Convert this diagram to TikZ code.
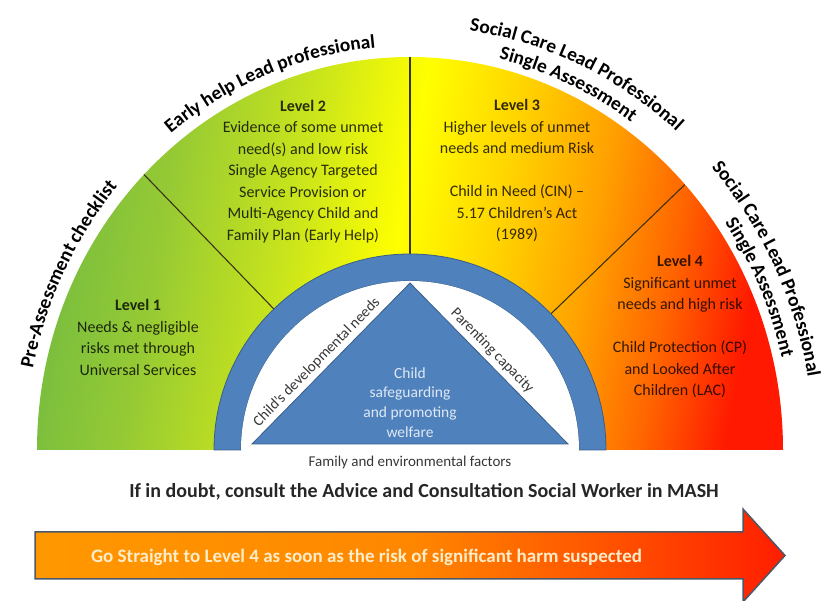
\documentclass[tikz,border=0pt]{standalone}
\usepackage{fontspec}
\setmainfont{Carlito}
\usetikzlibrary{decorations.text,calc}
\definecolor{gA}{RGB}{122,190,62}
\definecolor{gB}{RGB}{150,202,52}
\definecolor{gC}{RGB}{200,228,28}
\definecolor{yA}{RGB}{255,255,0}
\definecolor{oA}{RGB}{255,212,0}
\definecolor{oB}{RGB}{255,160,0}
\definecolor{oC}{RGB}{255,100,0}
\definecolor{rA}{RGB}{255,25,0}
\pgfdeclarehorizontalshading{levelgrad}{100bp}{color(0bp)=(gA); color(25bp)=(gA); color(32bp)=(gB); color(41bp)=(gC); color(49bp)=(yA); color(56bp)=(oA); color(63bp)=(oB); color(69bp)=(oC); color(75bp)=(rA); color(100bp)=(rA)}
\definecolor{arrA}{RGB}{255,152,0}
\definecolor{arrB}{RGB}{255,135,0}
\definecolor{arrC}{RGB}{255,75,0}
\definecolor{arrD}{RGB}{255,30,0}
\pgfdeclarehorizontalshading{arrowgrad}{100bp}{color(0bp)=(arrA); color(25bp)=(arrA); color(50bp)=(arrB); color(65bp)=(arrC); color(75bp)=(arrD); color(100bp)=(arrD)}
\definecolor{ringblue}{RGB}{79,129,189}
\definecolor{ringedge}{RGB}{56,93,138}
\definecolor{lightTxt}{RGB}{222,232,244}
\definecolor{txtgray}{RGB}{55,55,55}
\definecolor{divcol}{RGB}{60,50,20}
\definecolor{arrEdge}{RGB}{75,88,105}
\definecolor{arrTxt}{RGB}{255,236,200}
\newcommand\arclblfont{\bfseries\fontsize{19.4}{22}\selectfont}
\begin{document}
\begin{tikzpicture}[x=1pt,y=1pt,
  lvl/.style={align=center, font=\fontsize{16}{21.5}\selectfont, text=black, text opacity=0.8},
  divline/.style={draw=divcol, line width=1.1pt},
  arclbl/.style={decorate, decoration={text along path, text align=center, text={|\arclblfont|#1}}},
  sidetxt/.style={font=\fontsize{15}{17}\selectfont, text=txtgray}]
\useasboundingbox (0,0) rectangle (831,601);
\coordinate (C) at (410,151);
% graded semicircle
\shade[shading=levelgrad, shading angle=-10] ($(C)+(-373,0)$) arc[start angle=180,end angle=0,x radius=373,y radius=393] -- cycle;
% dividers
\draw[divline] ($(C)+(134:196)$) -- ($(C)+(134:383)$);
\draw[divline] ($(C)+(0,196)$) -- ($(C)+(0,393)$);
\draw[divline] ($(C)+(44:196)$) -- ($(C)+(44:382)$);
% ring
\fill[ringblue, draw=ringedge, line width=0.8pt] ($(C)+(-196,0)$) arc[start angle=180,end angle=0,radius=196] -- ++(-27,0) arc[start angle=0,end angle=180,radius=169] -- cycle;
\fill[white] ($(C)+(-169,0)$) arc[start angle=180,end angle=0,radius=169] -- cycle;
% triangle
\coordinate (tl) at (252,157);
\coordinate (tr) at (568,157);
\coordinate (ta) at (410,318);
\fill[ringblue, draw=ringedge, line width=0.8pt] (tl) -- (ta) -- (tr) -- cycle;
\path (tl) -- (ta) node[pos=0.46, sloped, above=1pt, sidetxt] (devneeds) {Child’s developmental needs};
\path (ta) -- (tr) node[pos=0.47, sloped, above=1pt, sidetxt] (parcap) {Parenting capacity};
\node[align=center, font=\fontsize{15.5}{19.7}\selectfont, text=lightTxt] (welfare) at (410,198.5) {Child\\safeguarding\\and promoting\\welfare};
\node[sidetxt] (family) at (410,138) {Family and environmental factors};
% level texts
\node[lvl] (lev1) at (138,263.5) {\textbf{Level 1}\\Needs \& negligible\\risks met through\\Universal Services};
\node[lvl] (lev2) at (303,429.5) {\textbf{Level 2}\\Evidence of some unmet\\need(s) and low risk\\Single Agency Targeted\\Service Provision or\\Multi-Agency Child and\\Family Plan (Early Help)};
\node[lvl] (lev3) at (517,430) {\textbf{Level 3}\\Higher levels of unmet\\needs and medium Risk\\[21.5pt]Child in Need (CIN) –\\5.17 Children’s Act\\(1989)};
\node[lvl] (lev4) at (680,274) {\textbf{Level 4}\\Significant unmet\\needs and high risk\\[21.5pt]Child Protection (CP)\\and Looked After\\Children (LAC)};
% curved labels
\path[arclbl={Pre-Assessment checklist}] ($(C)+(193.5:385 and 405)$) arc[start angle=193.5,end angle=113.5,x radius=385,y radius=405];
\path[arclbl={Early help Lead professional}] ($(C)+(151.5:384 and 404)$) arc[start angle=151.5,end angle=71.5,x radius=384,y radius=404];
\path[arclbl={Social Care Lead Professional}] ($(C)+(105.5:404 and 424)$) arc[start angle=105.5,end angle=25.5,x radius=404,y radius=424];
\path[arclbl={Single Assessment}] ($(C)+(106:382 and 402)$) arc[start angle=106,end angle=26,x radius=382,y radius=402];
\path[arclbl={Social Care Lead Professional}] ($(C)+(66.2:404 and 424)$) arc[start angle=66.2,end angle=-13.8,x radius=404,y radius=424];
\path[arclbl={Single Assessment}] ($(C)+(64.3:382 and 402)$) arc[start angle=64.3,end angle=-15.7,x radius=382,y radius=402];
% bottom texts
\node[font=\bfseries\fontsize{20}{23}\selectfont, text=black!85] (doubt) at (424,109) {If in doubt, consult the Advice and Consultation Social Worker in MASH};
\shadedraw[shading=arrowgrad, draw=arrEdge, line width=1.5pt] (35,22) -- (743,22) -- (743,-1) -- (785,45.5) -- (743,92) -- (743,69) -- (35,69) -- cycle;
\node[font=\bfseries\fontsize{19}{22}\selectfont, text=arrTxt] (gostraight) at (366.5,44) {Go Straight to Level 4 as soon as the risk of significant harm suspected};
\end{tikzpicture}
\end{document}
